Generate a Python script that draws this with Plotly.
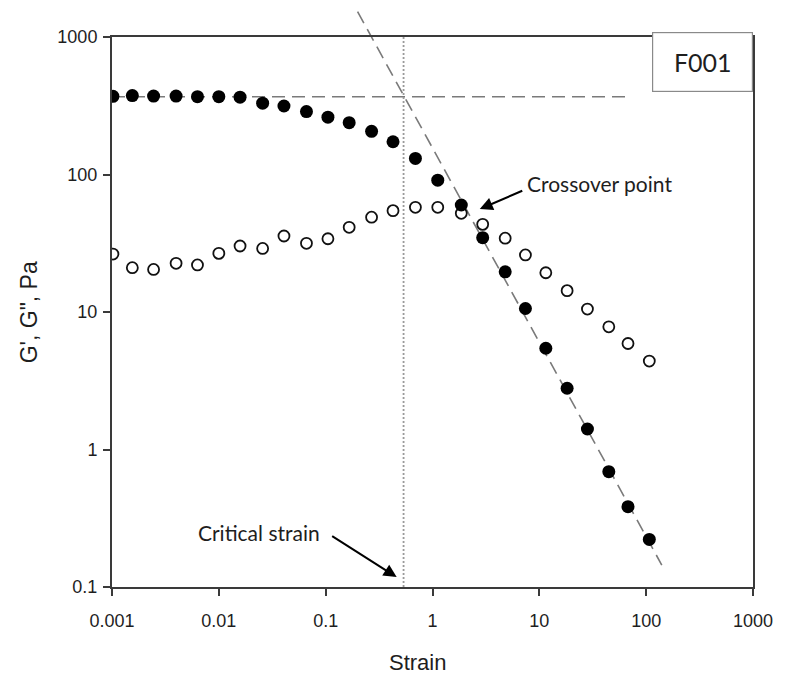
import math
import plotly.graph_objects as go

# ---- data ----
strain = [0.00102, 0.00155, 0.00245, 0.00398, 0.00631, 0.0100, 0.0158, 0.0257,
          0.0407, 0.0661, 0.105, 0.166, 0.269, 0.427, 0.692, 1.12, 1.86, 2.95,
          4.79, 7.41, 11.5, 18.2, 28.2, 44.7, 67.6, 107]
g_storage = [370, 375, 372, 372, 368, 368, 365, 330, 315, 287, 261, 238, 206,
             173, 131, 91, 60, 34.7, 19.6, 10.6, 5.45, 2.79, 1.41, 0.69, 0.384, 0.222]
g_loss = [26.4, 21.0, 20.4, 22.6, 22.0, 26.7, 30.2, 29.0, 35.7, 31.6, 34.1, 41.3,
          48.9, 54.6, 57.7, 57.7, 52.2, 43.4, 34.4, 26.0, 19.3, 14.3, 10.5, 7.8, 5.9, 4.4]

plateau_strain = [0.001, 65.6]
plateau_g = [368, 368]
critical_strain = 0.536
slope_strain = [0.199, 140]
slope_g = [1528, 0.1445]

tick_vals = [0.001, 0.01, 0.1, 1, 10, 100, 1000]
tick_text = ["0.001", "0.01", "0.1", "1", "10", "100", "1000"]
ytick_vals = [0.1, 1, 10, 100, 1000]
ytick_text = ["0.1", "1", "10", "100", "1000"]

X_RANGE = [-3, 3]
Y_RANGE = [-1, 3]

AX_COLOR = "#3a3a3a"
TICK_FONT = dict(family="Liberation Sans, Arial", size=18, color="#1e1e1e")
TITLE_FONT = dict(family="Liberation Sans, Arial", size=22, color="#1e1e1e")
NOTE_FONT = dict(family="Lato, Open Sans", size=21, color="#1e1e1e")

fig = go.Figure()

# plateau dashed line
fig.add_trace(go.Scatter(x=plateau_strain, y=plateau_g, mode="lines",
                         line=dict(color="#7a7a7a", width=1.6, dash="13px,7px"),
                         showlegend=False, hoverinfo="skip"))
# critical strain dotted vertical
fig.add_trace(go.Scatter(x=[critical_strain, critical_strain],
                         y=[10 ** Y_RANGE[0], 10 ** Y_RANGE[1]], mode="lines",
                         line=dict(color="#9a9a9a", width=1.8, dash="2px,2px"),
                         showlegend=False, hoverinfo="skip"))

# power-law slope line (extends above the frame)
def ydom(v):
    return (math.log10(v) - Y_RANGE[0]) / (Y_RANGE[1] - Y_RANGE[0])

fig.add_shape(type="line", xref="x", yref="y domain",
              x0=slope_strain[0], x1=slope_strain[1],
              y0=ydom(slope_g[0]), y1=ydom(slope_g[1]),
              line=dict(color="#7a7a7a", width=1.6, dash="13px,7px"),
              layer="below")

# G'' open circles
fig.add_trace(go.Scatter(x=strain, y=g_loss, mode="markers", name="G''",
                         marker=dict(symbol="circle-open", size=11, color="#111111",
                                     line=dict(width=1.8, color="#111111")),
                         showlegend=False))
# G' filled circles
fig.add_trace(go.Scatter(x=strain, y=g_storage, mode="markers", name="G'",
                         marker=dict(symbol="circle", size=13, color="#000000"),
                         showlegend=False))

axis_common = dict(type="log", showgrid=False, zeroline=False, showline=True,
                   linecolor=AX_COLOR, linewidth=2, mirror=True,
                   ticks="outside", ticklen=7, tickwidth=1.6, tickcolor=AX_COLOR,
                   tickfont=TICK_FONT)

fig.update_xaxes(range=X_RANGE, tickvals=tick_vals, ticktext=tick_text,
                 ticklabelstandoff=9, **axis_common)
fig.update_yaxes(range=Y_RANGE, tickvals=ytick_vals, ticktext=ytick_text,
                 ticklabelstandoff=2, **axis_common)

annotations = [
    # axis titles
    dict(x=0.477, y=-0.137, xref="paper", yref="paper", text="Strain",
         showarrow=False, font=TITLE_FONT, xanchor="center", yanchor="middle"),
    dict(x=-0.129, y=0.5, xref="paper", yref="paper", text="G', G\", Pa",
         showarrow=False, font=dict(TITLE_FONT, size=23), textangle=-90,
         xanchor="center", yanchor="middle"),
    # notes
    dict(x=math.log10(36.3), y=math.log10(86.7), xref="x", yref="y",
         text="Crossover point", showarrow=False, font=NOTE_FONT),
    dict(x=math.log10(2.77), y=math.log10(56), xref="x", yref="y", text="",
         showarrow=True, ax=44, ay=-19, arrowhead=2, arrowsize=1.3, arrowwidth=2,
         arrowcolor="#000000"),
    dict(x=math.log10(0.0237), y=math.log10(0.251), xref="x", yref="y",
         text="Critical strain", showarrow=False, font=NOTE_FONT),
    dict(x=math.log10(0.462), y=math.log10(0.118), xref="x", yref="y", text="",
         showarrow=True, ax=-66, ay=-42, arrowhead=2, arrowsize=1.3, arrowwidth=2,
         arrowcolor="#000000"),
    dict(x=1.0, y=1.009, xref="paper", yref="paper", xanchor="right", yanchor="top",
         text="F001", showarrow=False, width=99, height=58, borderpad=0,
         bordercolor="#8a8a8a", borderwidth=1.2, bgcolor="#ffffff",
         font=dict(family="Lato, Open Sans", size=25, color="#1e1e1e")),
]
fig.update_layout(annotations=annotations,
                  width=785, height=674,
                  margin=dict(l=112, r=21, t=37, b=87),
                  paper_bgcolor="#ffffff", plot_bgcolor="#ffffff")

fig.write_html("out.html")
